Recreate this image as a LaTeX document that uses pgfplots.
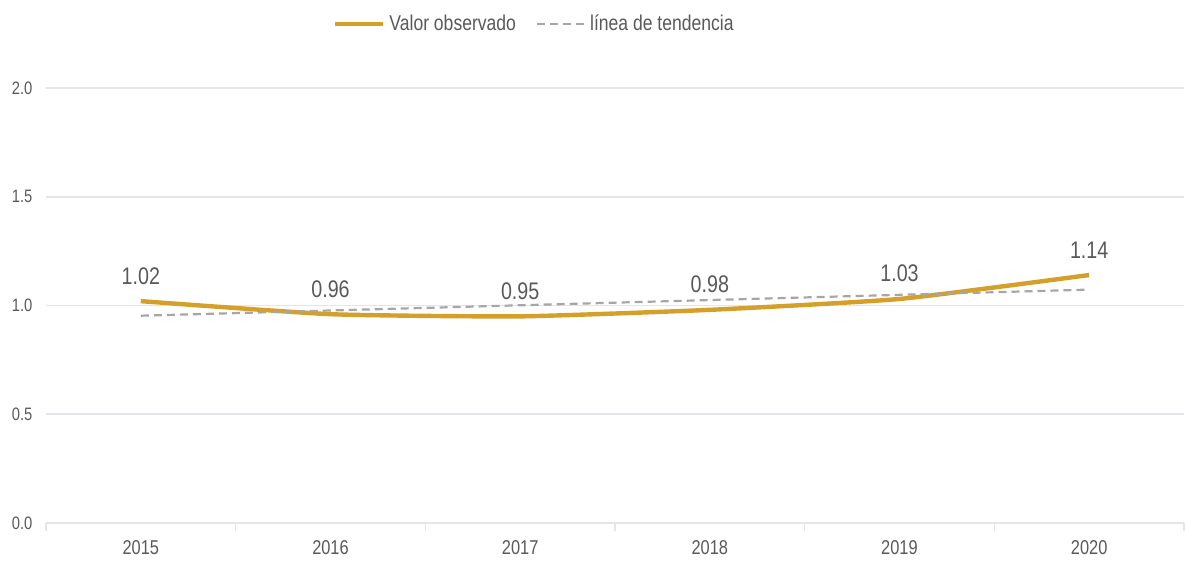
\documentclass[border=0pt]{standalone}
\usepackage{fontspec}
\setmainfont{Liberation Sans}[FakeStretch=0.82]
\usepackage{pgfplots}
\pgfplotsset{compat=1.18}
\definecolor{gold}{HTML}{D4A02A}
\definecolor{trend}{HTML}{A6A6A6}
\definecolor{gridc}{HTML}{E2E5EE}
\definecolor{txt}{HTML}{595959}
\begin{document}
\begin{tikzpicture}
\begin{axis}[
  at={(0,0)}, anchor=south west,
  scale only axis, width=569pt, height=217.5pt,
  xmin=-0.5, xmax=5.5, ymin=0, ymax=2,
  xtick={0,...,5}, xticklabels={2015,2016,2017,2018,2019,2020},
  minor xtick={-0.5,0.5,...,5.5},
  major x tick style={draw=none},
  minor x tick style={draw=gridc, line width=0.8pt},
  minor tick length=4pt,
  tick align=outside,
  ytick={0,0.5,...,2}, major y tick style={draw=none},
  ymajorgrids, grid style={draw=gridc, line width=0.8pt},
  axis x line*=bottom, axis y line*=left,
  x axis line style={draw=gridc, line width=0.8pt},
  y axis line style={draw=none},
  yticklabel style={/pgf/number format/assume math mode=true, /pgf/number format/fixed, /pgf/number format/precision=1, /pgf/number format/fixed zerofill, font=\fontsize{9}{10}\selectfont, text=txt, xshift=1pt},
  xticklabel style={font=\fontsize{10}{12}\selectfont, text=txt, yshift=-1pt},
  legend style={at={(0.43,1.0)}, anchor=south, yshift=23pt, draw=none, legend columns=2, font=\fontsize{10.7}{12}\selectfont, text=txt, /tikz/every even column/.append style={column sep=8pt}},
  legend image code/.code={\draw[#1] (0pt,0pt) -- (24pt,0pt);},
  legend cell align=left,
  clip=false,
]
\addplot[gold, line width=2.2pt, smooth, tension=0.3,
  nodes near coords, point meta=explicit symbolic,
  every node near coord/.append style={font=\fontsize{12}{14}\selectfont, text=txt, yshift=4pt}]
  coordinates {(0,1.02)[1.02] (1,0.96)[0.96] (2,0.95)[0.95] (3,0.98)[0.98] (4,1.03)[1.03] (5,1.14)[1.14]};
\addlegendentry{Valor observado}
\addplot[trend, line width=1.1pt, dash pattern=on 4pt off 2.5pt]
  coordinates {(0,0.953) (1,0.977) (2,1.001) (3,1.025) (4,1.049) (5,1.073)};
\addlegendentry{línea de tendencia}
\end{axis}
\pgfresetboundingbox
\path[use as bounding box] (-23pt,-19pt) rectangle (569.5pt,261.5pt);
\end{tikzpicture}
\end{document}
